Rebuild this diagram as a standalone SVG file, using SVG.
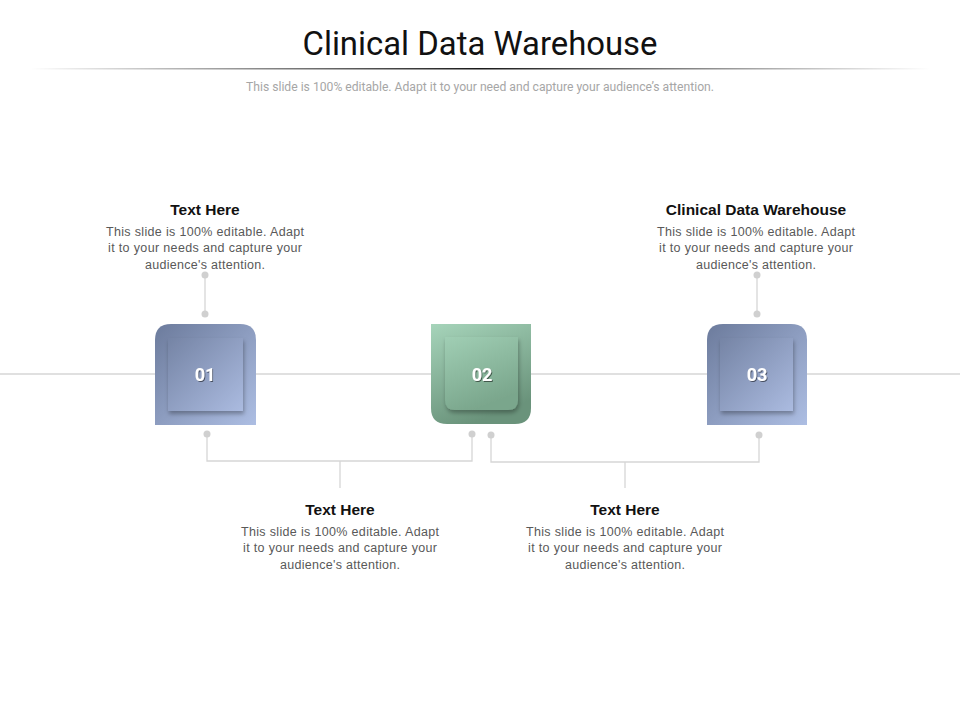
<svg xmlns="http://www.w3.org/2000/svg" width="960" height="720" viewBox="0 0 960 720">
<defs>
<style>
.h{font-family:"Liberation Sans",Arial,sans-serif;font-weight:bold;font-size:15.5px;fill:#111;text-anchor:middle}
.b{font-family:"Liberation Sans",Arial,sans-serif;font-size:12.5px;fill:#595959;text-anchor:middle}
.n{font-family:"Roboto","Liberation Sans",sans-serif;font-weight:bold;font-size:18px;fill:#fff;text-anchor:middle}
.ln{stroke:#d6d6d6;stroke-width:1.3;fill:none}
.dot{fill:#d0d0d0}
</style>
<linearGradient id="blue" x1="0" y1="0" x2="1" y2="1">
<stop offset="0" stop-color="#6c7b9c"/><stop offset="1" stop-color="#adbee3"/>
</linearGradient>
<linearGradient id="blueIn" x1="0" y1="0" x2="1" y2="1">
<stop offset="0" stop-color="#7584a5"/><stop offset="1" stop-color="#abbbe0"/>
</linearGradient>
<linearGradient id="green" x1="0" y1="0" x2="0.4" y2="1">
<stop offset="0" stop-color="#a6d4ba"/><stop offset="1" stop-color="#6a937b"/>
</linearGradient>
<linearGradient id="greenIn" x1="0" y1="0" x2="0.4" y2="1">
<stop offset="0" stop-color="#a0ceb4"/><stop offset="1" stop-color="#7aa68c"/>
</linearGradient>
<linearGradient id="rule" x1="0" y1="0" x2="1" y2="0">
<stop offset="0" stop-color="#000" stop-opacity="0"/><stop offset="0.5" stop-color="#000" stop-opacity="0.9"/><stop offset="1" stop-color="#000" stop-opacity="0"/>
</linearGradient>
<filter id="sh" x="-20%" y="-20%" width="140%" height="140%">
<feDropShadow dx="1" dy="3" stdDeviation="2" flood-color="#000" flood-opacity="0.3"/>
</filter>
<filter id="ts" x="-20%" y="-20%" width="140%" height="140%">
<feDropShadow dx="1" dy="1" stdDeviation="0.6" flood-color="#000" flood-opacity="0.5"/>
</filter>
</defs>
<rect width="960" height="720" fill="#fff"/>
<g id="title">
<text x="480" y="55" font-family="Roboto,'Liberation Sans',sans-serif" font-size="34" fill="#111" text-anchor="middle" textLength="355" lengthAdjust="spacingAndGlyphs">Clinical Data Warehouse</text>
<rect x="30" y="68" width="900" height="1.5" fill="url(#rule)"/>
<text x="480" y="91" font-family="Roboto,'Liberation Sans',sans-serif" font-size="12" fill="#a6a6a6" text-anchor="middle" textLength="468" lengthAdjust="spacingAndGlyphs">This slide is 100% editable. Adapt it to your need and capture your audience’s attention.</text>
</g>
<g id="connectors">
<line class="ln" x1="0" y1="374" x2="960" y2="374"/>
<line class="ln" x1="205" y1="275" x2="205" y2="314"/>
<line class="ln" x1="757" y1="275" x2="757" y2="314"/>
<polyline class="ln" points="207,434 207,461 472,461 472,434"/>
<line class="ln" x1="340" y1="461" x2="340" y2="488"/>
<polyline class="ln" points="491,435 491,462 759,462 759,435"/>
<line class="ln" x1="625" y1="462" x2="625" y2="488"/>
<circle class="dot" cx="205" cy="275" r="3.5"/>
<circle class="dot" cx="205" cy="314" r="3.5"/>
<circle class="dot" cx="757" cy="275" r="3.5"/>
<circle class="dot" cx="757" cy="314" r="3.5"/>
<circle class="dot" cx="207" cy="434" r="3.5"/>
<circle class="dot" cx="472" cy="434" r="3.5"/>
<circle class="dot" cx="491" cy="435" r="3.5"/>
<circle class="dot" cx="759" cy="435" r="3.5"/>
</g>
<g id="node01">
<path d="M155,425 V340 Q155,324 171,324 H240 Q256,324 256,340 V425 Z" fill="url(#blue)"/>
<rect x="168" y="338" width="75" height="73" fill="url(#blueIn)" filter="url(#sh)"/>
<text class="n" x="205" y="381" filter="url(#ts)">01</text>
</g>
<g id="node02">
<path d="M431,324 H531 V408 Q531,424 515,424 H447 Q431,424 431,408 Z" fill="url(#green)"/>
<path d="M445,337 H518 V400 Q518,410 508,410 H455 Q445,410 445,400 Z" fill="url(#greenIn)" filter="url(#sh)"/>
<text class="n" x="482" y="381" filter="url(#ts)">02</text>
</g>
<g id="node03">
<path d="M707,425 V340 Q707,324 723,324 H791 Q807,324 807,340 V425 Z" fill="url(#blue)"/>
<rect x="720" y="338" width="73" height="73" fill="url(#blueIn)" filter="url(#sh)"/>
<text class="n" x="757" y="381" filter="url(#ts)">03</text>
</g>
<g id="text1">
<text class="h" x="205" y="215">Text Here</text>
<text class="b" x="205" y="236" textLength="198">This slide is 100% editable. Adapt</text>
<text class="b" x="205" y="252" textLength="194">it to your needs and capture your</text>
<text class="b" x="205" y="269" textLength="120">audience's attention.</text>
</g>
<g id="text3">
<text class="h" x="756" y="215">Clinical Data Warehouse</text>
<text class="b" x="756" y="236" textLength="198">This slide is 100% editable. Adapt</text>
<text class="b" x="756" y="252" textLength="194">it to your needs and capture your</text>
<text class="b" x="756" y="269" textLength="120">audience's attention.</text>
</g>
<g id="text2">
<text class="h" x="340" y="515">Text Here</text>
<text class="b" x="340" y="536" textLength="198">This slide is 100% editable. Adapt</text>
<text class="b" x="340" y="552" textLength="194">it to your needs and capture your</text>
<text class="b" x="340" y="569" textLength="120">audience's attention.</text>
</g>
<g id="text4">
<text class="h" x="625" y="515">Text Here</text>
<text class="b" x="625" y="536" textLength="198">This slide is 100% editable. Adapt</text>
<text class="b" x="625" y="552" textLength="194">it to your needs and capture your</text>
<text class="b" x="625" y="569" textLength="120">audience's attention.</text>
</g>
</svg>
